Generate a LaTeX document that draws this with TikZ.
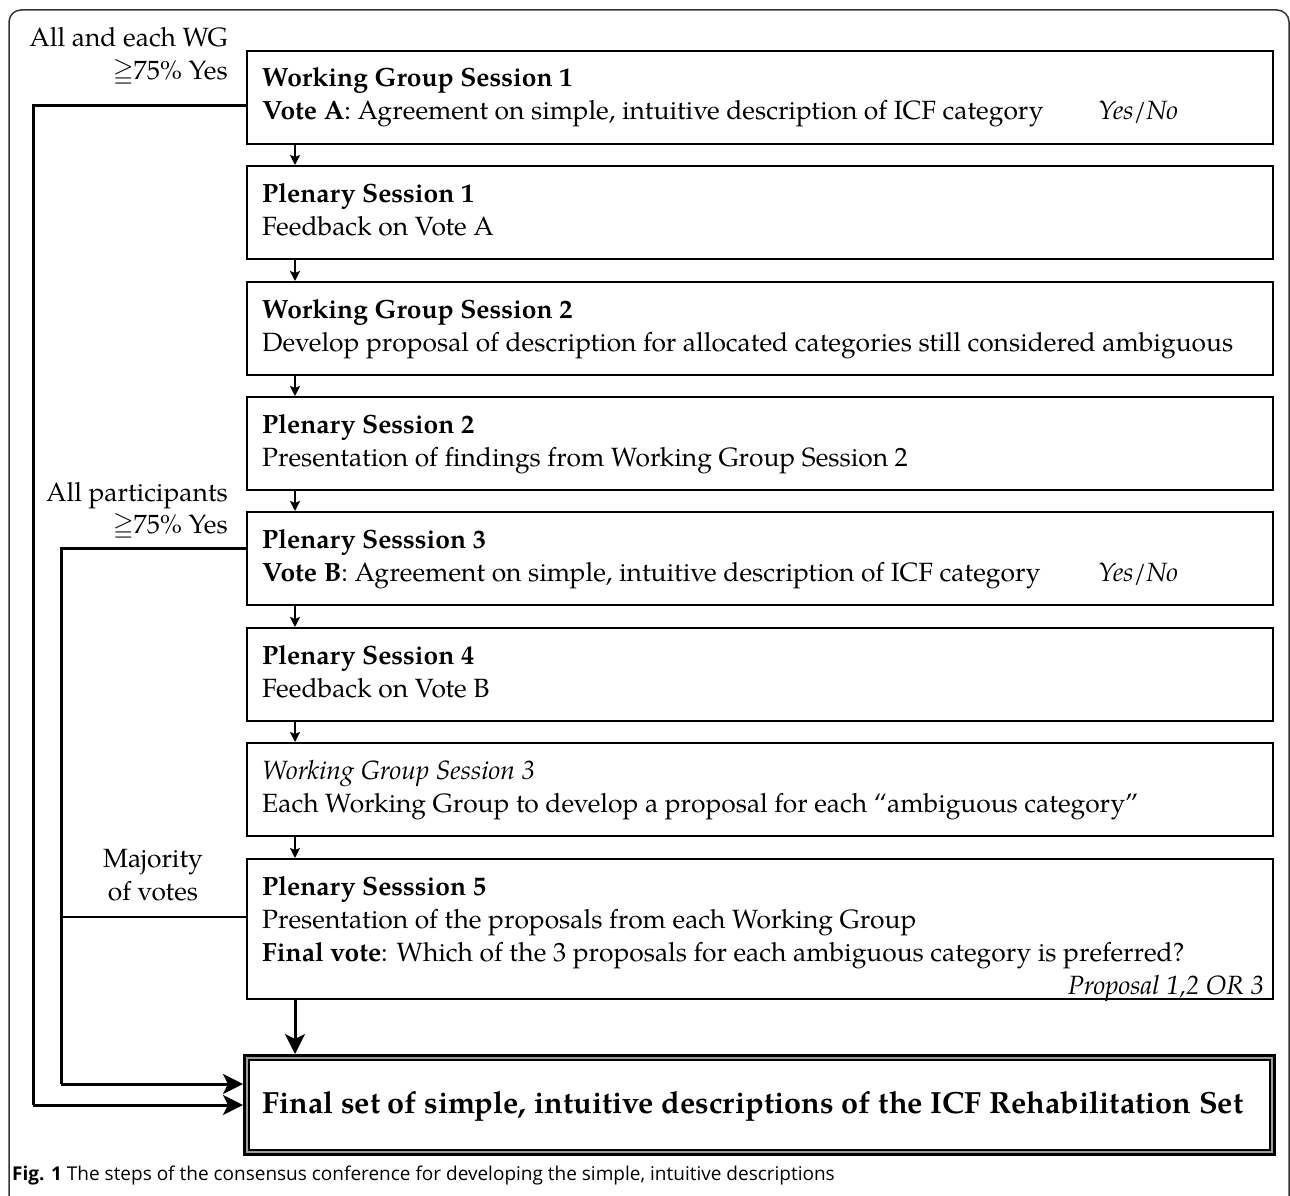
\documentclass[tikz,border=0pt]{standalone}
\usepackage{amssymb}
\usepackage{fontspec}
\setmainfont{texgyrepagella}[Extension=.otf, UprightFont=*-regular, BoldFont=*-bold, ItalicFont=*-italic, BoldItalicFont=*-bolditalic]
\newfontfamily\capfont{Open Sans}
\usetikzlibrary{arrows.meta,calc}
\begin{document}
\begin{tikzpicture}[x=1pt,y=-1pt,
  box/.style={draw, line width=2pt, minimum width=1026pt, anchor=north west, inner sep=0pt},
  txt/.style={anchor=base west, inner sep=0pt, font=\fontsize{26.4}{33}\selectfont},
  rtxt/.style={anchor=base east, inner sep=0pt, font=\fontsize{26.4}{33}\selectfont},
  ctxt/.style={anchor=base, inner sep=0pt, font=\fontsize{26.4}{33}\selectfont},
  sarr/.style={line width=2.5pt, -{Stealth[length=10pt,width=10pt,inset=2pt]}},
  larr/.style={line width=3pt, -{Stealth[length=20pt,width=20pt,inset=5pt]}},
  conn/.style={line width=3pt}]
\useasboundingbox (0,0) rectangle (1290,1196);
% outer frame
\draw[line width=1.5pt, black!80] (9,1196) -- (9,22) arc[start angle=180,end angle=270,radius=12] -- (1277,10) arc[start angle=270,end angle=360,radius=12] -- (1289,1196);
% boxes
\node[box, minimum height=93pt] (b1) at (246,50) {};
\node[box, minimum height=93pt] (b2) at (246,165) {};
\node[box, minimum height=93pt] (b3) at (246,281) {};
\node[box, minimum height=93pt] (b4) at (246,396) {};
\node[box, minimum height=93pt] (b5) at (246,511) {};
\node[box, minimum height=93pt] (b6) at (246,627) {};
\node[box, minimum height=93pt] (b7) at (246,742) {};
\node[box, minimum height=140pt] (b8) at (246,858) {};
% final box (double border)
\node[minimum width=1026pt, minimum height=95pt, anchor=north west, inner sep=0pt] (fin) at (246,1057) {};
\draw[line width=2.6pt, black] ($(fin.north west)+(-1.8,-1.8)$) rectangle ($(fin.south east)+(1.8,1.8)$);
\draw[line width=2.4pt, black!38] ($(fin.north west)+(0.7,0.7)$) rectangle ($(fin.south east)+(-0.7,-0.7)$);
\draw[line width=1.6pt, black] ($(fin.north west)+(2.7,2.7)$) rectangle ($(fin.south east)+(-2.7,-2.7)$);
\node[anchor=base west, inner sep=0pt, font=\fontsize{30.6}{35}\selectfont\bfseries] (fint) at ($(fin.north west)+(16,56)$) {Final set of simple, intuitive descriptions of the ICF Rehabilitation Set};
% texts
\node[txt] (t1a) at ($(b1.north west)+(16,37)$) {\textbf{Working Group Session 1}};
\node[txt] (t1b) at ($(b1.north west)+(16,70)$) {\textbf{Vote A}: Agreement on simple, intuitive description of ICF category};
\node[txt] (t1c) at ($(b1.north west)+(852,70)$) {\textit{Yes/No}};
\node[txt] (t2a) at ($(b2.north west)+(16,37)$) {\textbf{Plenary Session 1}};
\node[txt] (t2b) at ($(b2.north west)+(16,70)$) {Feedback on Vote A};
\node[txt] (t3a) at ($(b3.north west)+(16,37)$) {\textbf{Working Group Session 2}};
\node[txt] (t3b) at ($(b3.north west)+(16,70)$) {Develop proposal of description for allocated categories still considered ambiguous};
\node[txt] (t4a) at ($(b4.north west)+(16,37)$) {\textbf{Plenary Session 2}};
\node[txt] (t4b) at ($(b4.north west)+(16,70)$) {Presentation of findings from Working Group Session 2};
\node[txt] (t5a) at ($(b5.north west)+(16,37)$) {\textbf{Plenary Sesssion 3}};
\node[txt] (t5b) at ($(b5.north west)+(16,70)$) {\textbf{Vote B}: Agreement on simple, intuitive description of ICF category};
\node[txt] (t5c) at ($(b5.north west)+(852,70)$) {\textit{Yes/No}};
\node[txt] (t6a) at ($(b6.north west)+(16,37)$) {\textbf{Plenary Session 4}};
\node[txt] (t6b) at ($(b6.north west)+(16,70)$) {Feedback on Vote B};
\node[txt] (t7a) at ($(b7.north west)+(16,37)$) {\textit{Working Group Session 3}};
\node[txt] (t7b) at ($(b7.north west)+(16,70)$) {Each Working Group to develop a proposal for each “ambiguous category”};
\node[txt] (t8a) at ($(b8.north west)+(16,37)$) {\textbf{Plenary Sesssion 5}};
\node[txt] (t8b) at ($(b8.north west)+(16,70)$) {Presentation of the proposals from each Working Group};
\node[txt] (t8c) at ($(b8.north west)+(16,103)$) {\textbf{Final vote}: Which of the 3 proposals for each ambiguous category is preferred?};
\node[rtxt] (t8d) at ($(b8.north east)+(-10,136)$) {\textit{Proposal 1,2 OR 3}};
% side labels
\node[rtxt] (l1a) at (228,47) {All and each WG};
\node[rtxt] (l1b) at (228,80) {$\geqq$75\% Yes};
\node[rtxt] (l2a) at (228,501) {All participants};
\node[rtxt] (l2b) at (228,533) {$\geqq$75\% Yes};
\node[ctxt] (l3a) at (153,867) {Majority};
\node[ctxt] (l3b) at (153,900) {of votes};
% short arrows
\foreach \a/\b in {b1/b2,b2/b3,b3/b4,b4/b5,b5/b6,b6/b7,b7/b8}
  \draw[sarr] ([xshift=49pt]\a.south west) -- ([xshift=49pt]\b.north west);
\draw[larr] ([xshift=49pt]b8.south west) -- ($(fin.north west)+(49,-3)$);
% feedback lines
\coordinate (c1a) at (33,106);
\coordinate (c1b) at (33,1105);
\coordinate (c2a) at (61,548);
\coordinate (c2b) at (61,1084);
\coordinate (c3) at (61,917);
\draw[conn] ($(b1.north west)+(0,56)$) -- (c1a) -- (c1b);
\draw[larr] (c1b) -- ($(fin.north west)+(-3,48)$);
\draw[conn] ($(b5.north west)+(0,37)$) -- (c2a) -- (c2b);
\draw[larr] (c2b) -- ($(fin.north west)+(-3,27)$);
\draw[line width=2pt] ($(b8.north west)+(0,59)$) -- (c3);
% caption
\node[anchor=base west, inner sep=0pt, font=\capfont\fontsize{19}{22}\selectfont] (cap) at (12,1180) {\textbf{Fig. 1} The steps of the consensus conference for developing the simple, intuitive descriptions};
\end{tikzpicture}
\end{document}
